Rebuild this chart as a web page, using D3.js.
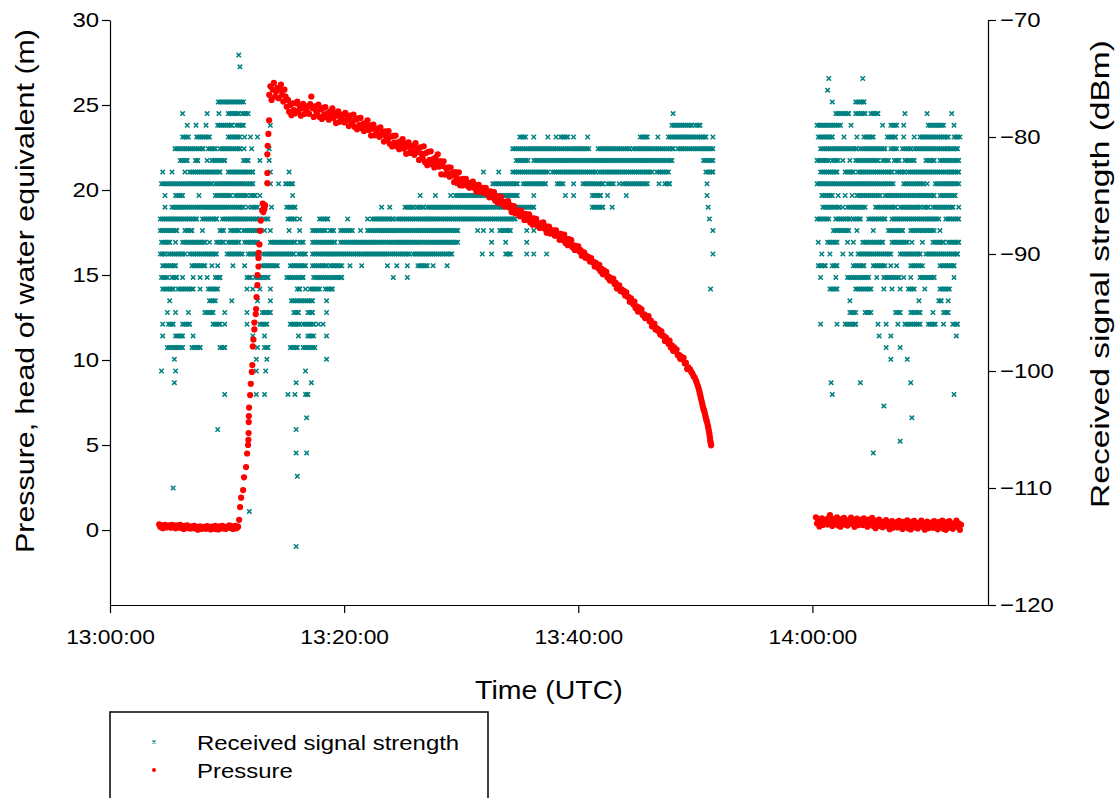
<!DOCTYPE html>
<html>
<head>
<meta charset="utf-8">
<script src="https://cdn.jsdelivr.net/npm/d3@7"></script>
<style>
  body { margin: 0; background: #fff; }
  svg text { font-family: "Liberation Sans", Arial, sans-serif; fill: #000; }
</style>
</head>
<body>
<svg id="chart" width="1120" height="798"></svg>
<script>
// time is in minutes after 13:00:00 UTC

// received signal strength, dBm level -> times (single) or [from, to] runs of readings
var rssiStart = [
  [-73, [11.0]],
  [-74, [11.1]],
  [-77, [[9.25, 11.4]]],
  [-78, [6.2, 8.3, 9.3, [10.1, 11.0], [11.3, 11.8]]],
  [-79, [6.6, 7.35, 8.2, [9.2, 10.4], [10.8, 11.4], 13.7]],
  [-80, [[6.2, 6.7], [7.4, 8.5], [10.1, 11.1], 11.5, 12.0, 12.6]],
  [-81, [[5.55, 7.95], [8.4, 9.0], [9.4, 11.1], 11.45, 12.1, 13.6]],
  [-82, [[6.0, 6.6], [7.3, 7.5], 8.3, [8.7, 9.8], [11.4, 11.8], 12.8, 13.6]],
  [-83, [4.5, 5.3, 6.4, [6.8, 9.4], [10.1, 12.2], 13.7, 15.3]],
  [-84, [[4.4, 4.9], [5.1, 8.7], [9.0, 12.2], 13.7, 14.4, [15.0, 15.6]]],
  [-85, [4.7, [5.6, 6.2], 7.6, [9.0, 10.3], [10.7, 11.7], [12.0, 12.4], 12.8, 15.6]],
  [-86, [4.7, [5.3, 11.4], 11.8, [12.1, 12.6], 13.8, [15.1, 15.8]]],
  [-87, [[4.3, 7.4], [7.9, 9.1], [9.6, 12.8], [13.2, 13.5], [15.2, 15.8], 16.2]],
  [-88, [[4.3, 5.7], [6.4, 7.0], 7.9, [9.4, 9.7], [10.3, 11.0], [11.4, 12.8], 13.2, 13.7, 15.3, 16.2]],
  [-89, [[4.4, 5.1], 5.6, [6.2, 8.1], 8.5, [9.1, 9.7], [10.1, 11.0], [11.5, 12.6], [13.7, 15.8], [16.2, 16.5]]],
  [-90, [[4.3, 4.7], [5.0, 6.2], 6.4, [6.8, 9.1], [10.0, 11.3], [11.8, 12.6], [13.1, 15.7], [16.1, 16.7]]],
  [-91, [[4.5, 5.6], [7.0, 8.1], 8.7, 9.2, 10.5, 11.5, [13.0, 14.3], [15.4, 16.7]]],
  [-92, [[4.4, 4.9], [5.3, 5.7], 6.2, 7.1, 7.7, 8.3, [9.0, 9.4], [11.7, 12.0], [12.4, 13.5], [15.1, 16.5]]],
  [-93, [[4.5, 5.4], [5.8, 7.1], 7.7, [8.4, 9.2], 11.7, 12.2, 12.8, 13.7, [16.0, 16.2], 16.7]],
  [-94, [5.1, [8.5, 9.0], 10.4, 12.6, 13.7, [15.5, 16.0]]],
  [-95, [4.9, 5.6, 6.7, [8.1, 8.8], 9.8, 11.7, [13.0, 13.7], [15.7, 16.1]]],
  [-96, [4.5, [5.0, 5.4], [6.2, 6.8], [8.8, 9.4], 9.8, 11.7, [12.8, 13.4], [15.4, 16.2]]],
  [-97, [4.5, [5.6, 6.2], 7.1, 12.2, 13.2, 16.1]],
  [-98, [[4.9, 6.2], [7.0, 7.7], [9.4, 9.8], 12.6, [13.2, 13.5], [15.4, 16.0]]],
  [-99, [5.5, 12.5, 13.4]],
  [-100, [4.4, 5.6, 12.5, 13.3]],
  [-101, [5.5, 15.9]],
  [-102, [9.8, 12.5, 13.2, 15.2, 15.8]],
  [-105, [9.2, 15.9]],
  [-107, [15.9]],
  [-109, [16.0]],
  [-110, [5.4]],
  [-112, [11.9]],
  [-115, [15.9]]
];

var rssiMid = [
  [-78, [48.1]],
  [-79, [[48.0, 49.7], [50.0, 50.4]]],
  [-80, [[35.0, 35.5], 36.2, 37.4, 38.1, [38.5, 39.1], 39.6, 40.8, [45.3, 45.9], 46.8, [47.7, 50.9], 51.5]],
  [-81, [[34.4, 40.9], [41.7, 44.4], [44.7, 48.1], [48.5, 51.5]]],
  [-82, [[34.7, 35.7], [36.2, 41.5], [41.7, 48.0], [50.7, 51.5]]],
  [-83, [31.9, 33.2, [34.4, 37.4], [37.8, 41.5], [41.8, 46.3], [46.7, 47.7], [50.9, 51.5]]],
  [-84, [[29.7, 30.5], [32.7, 34.8], [35.3, 37.2], [38.2, 38.7], 39.6, [40.4, 42.1], [42.5, 43.0], 43.5, [43.8, 45.9], 46.9, [47.4, 47.8], 51.0]],
  [-85, [26.5, 27.8, 29.1, [29.5, 34.8], 36.2, 38.9, 39.6, [41.2, 41.9], 42.5, 44.1, 51.0]],
  [-86, [23.2, 23.9, [25.2, 25.9], [26.2, 26.8], [27.1, 36.2], [41.2, 42.1], 42.9, 51.1]],
  [-87, [[17.9, 18.6], 20.3, 22.0, [22.4, 24.2], [24.5, 34.6], 51.2]],
  [-88, [[17.3, 18.4], [18.8, 19.1], [19.7, 20.7], 21.4, [22.0, 29.7], 31.4, 31.9, 32.6, [33.3, 34.2], 35.6, 36.2, 51.5]],
  [-89, [[17.3, 19.2], [19.7, 29.7], 32.6, 33.8, 35.6]],
  [-90, [[17.3, 25.6], [25.9, 29.2], 31.8, 32.6, [33.8, 34.2], 35.6, 36.2, 37.3, 51.5]],
  [-91, [[17.3, 18.5], [18.8, 19.8], 20.5, 21.5, 23.7, 24.5, 25.4, [26.3, 27.1], 27.6, 28.8]],
  [-92, [[17.4, 19.8], 24.2, 25.4]],
  [-93, [[17.1, 17.9], [18.4, 19.0], 51.3]],
  [-94, [[16.2, 17.3], 18.5]],
  [-95, [[16.9, 17.3], 18.5]],
  [-96, [[16.5, 17.4], 17.8, 18.2]],
  [-97, [[16.9, 17.4], 18.5]],
  [-98, [[16.5, 17.5]]],
  [-99, [18.5]],
  [-100, [16.7]],
  [-101, [17.2]],
  [-102, [[16.7, 16.9]]],
  [-104, [16.8]],
  [-107, [16.8]]
];

var rssiLate = [
  [-75, [61.4, 64.3]],
  [-76, [61.3]],
  [-77, [61.7, [63.7, 64.4]]],
  [-78, [[62.0, 63.1], [63.7, 64.5], [65.0, 65.6], 67.9, 69.8, 71.9]],
  [-79, [[60.4, 62.4], 63.3, 66.0, [66.7, 67.2], 67.8, [69.9, 71.2], 72.1]],
  [-80, [[60.5, 61.7], 62.7, 63.8, [64.4, 65.2], [66.4, 67.1], 67.8, 68.7, [69.2, 71.6], [72.1, 72.6]]],
  [-81, [[60.7, 63.8], [64.1, 66.2], [66.7, 67.2], [67.7, 68.4], [68.7, 71.5], [71.6, 72.4]]],
  [-82, [[60.4, 61.4], [61.7, 62.2], 62.6, 63.2, [63.7, 65.6], [66.0, 66.5], [67.0, 67.4], [67.9, 68.7], [69.7, 70.4], [70.9, 72.5]]],
  [-83, [[60.7, 62.1], [62.8, 63.5], [63.9, 66.8], [67.2, 67.9], [68.2, 71.8], [71.9, 72.5]]],
  [-84, [[60.4, 66.9], [67.8, 69.5], 69.8, [70.5, 72.5]]],
  [-85, [[60.8, 61.7], 62.2, 62.8, 63.4, [63.8, 65.8], [66.2, 68.5], [68.7, 70.4], [70.9, 72.2]]],
  [-86, [[60.9, 62.3], 62.6, [63.0, 64.5], [65.4, 67.1], [67.5, 69.2], [69.5, 69.9], [70.3, 72.0], 72.5]],
  [-87, [[60.4, 61.4], [62.0, 63.2], [63.5, 64.1], [64.8, 66.2], [66.8, 70.8], [71.4, 72.5]]],
  [-88, [[61.8, 63.1], 63.8, 65.2, [66.5, 67.7], [68.4, 70.4], 70.9]],
  [-89, [60.5, [61.3, 62.1], 63.0, 63.5, [64.3, 66.0], [66.8, 68.1], 68.5, 69.4, [70.3, 71.2], [71.6, 72.5]]],
  [-90, [60.8, 61.5, 62.6, 63.3, [63.9, 66.7], [67.5, 69.2], [69.7, 72.4]]],
  [-91, [[60.5, 61.1], [61.7, 62.1], [63.5, 64.4], [65.2, 66.2], 66.7, 67.2, [68.4, 69.4], [70.9, 72.1]]],
  [-92, [60.7, 62.0, [63.0, 64.8], 65.5, [66.1, 67.4], 67.8, 68.4, [69.2, 70.4], 72.1]],
  [-93, [[61.5, 62.1], [63.7, 65.0], 66.1, 66.8, 67.5, [68.2, 68.7], 69.6, [70.9, 71.7]]],
  [-94, [63.2, 69.1, [70.8, 71.0], 71.6]],
  [-95, [[63.2, 63.7], [64.5, 65.0], [67.1, 67.5], [68.4, 69.2], 70.3, [71.2, 71.6]]],
  [-96, [60.7, 62.1, [62.8, 63.7], 65.6, 66.3, 67.3, [67.9, 69.2], [69.9, 70.5], 71.2, [72.0, 72.4]]],
  [-97, [65.7, 66.7, 72.3]],
  [-98, [66.3, 67.5]],
  [-99, [66.7, 68.1]],
  [-101, [61.6, 64.1, 68.4]],
  [-102, [61.7, 72.1]],
  [-103, [66.1]],
  [-104, [68.5]],
  [-106, [67.5]],
  [-107, [65.2]]
];

// pressure (m of water), logged every 6 s within each stretch
var presFlatEarly = { start: 4.2, step: 0.1, values: [
  0.33, 0.18, 0.27, 0.11, 0.23, 0.3, 0.15, 0.24, 0.2, 0.28,
  0.14, 0.3, 0.19, 0.24, 0.1, 0.27, 0.2, 0.15, 0.31, 0.12,
  0.21, 0.06, 0.24, 0.15, 0.27, 0.11, 0.18, 0.09, 0.22, 0.17,
  0.24, 0.09, 0.18, 0.02, 0.14, 0.21, 0.06, 0.15, 0.11, 0.19,
  0.07, 0.23, 0.12, 0.17, 0.03, 0.2, 0.13, 0.08, 0.24, 0.05,
  0.19, 0.04, 0.22, 0.13, 0.25, 0.09, 0.16, 0.07, 0.2, 0.15,
  0.28, 0.13, 0.22, 0.06, 0.18, 0.25, 0.1, 0.19] };

// filling: sparse readings [minute, pressure]
var presRise = [
  [10.94, 0.2], [11.03, 0.6], [11.11, 1.35], [11.2, 1.9], [11.37, 2.35], [11.45, 3.1],
  [11.62, 3.7], [11.71, 4.5], [11.79, 5.0], [11.82, 5.3], [11.84, 5.7], [11.85, 6.35],
  [11.86, 6.7], [11.88, 7.2], [11.97, 7.94], [12.03, 8.6], [12.11, 9.3], [12.16, 9.7],
  [12.2, 10.8], [12.25, 11.2], [12.33, 11.8], [12.33, 12.2], [12.45, 12.7], [12.48, 13.0],
  [12.52, 13.7], [12.59, 14.4], [12.6, 15.0], [12.68, 15.5], [12.68, 16.0], [12.7, 16.3],
  [12.76, 16.8], [12.82, 17.6], [12.88, 18.2], [13.0, 18.8], [13.05, 19.2], [13.1, 18.7],
  [13.15, 19.0], [13.2, 18.9], [13.25, 19.1], [13.44, 20.4], [13.44, 21.0], [13.44, 22.1],
  [13.47, 22.6], [13.53, 23.3], [13.59, 24.1]
];

var presPeak = { start: 13.6, step: 0.1, values: [
  25.6, 26.1, 25.3, 25.9,
  26.3, 25.5, 25.8, 26.0, 25.4, 25.9, 26.2, 25.6, 25.2, 25.9,
  25.5, 24.9, 25.3, 24.6, 25.0, 24.4, 25.1, 24.7, 24.5, 25.1,
  25.2, 24.65, 24.96, 24.37, 24.81, 25.07, 24.47, 24.82, 24.63, 24.93,
  24.48, 25.05, 25.5, 24.81, 24.3, 24.92, 24.64, 24.45, 25.02, 24.29,
  24.74, 24.18, 24.83, 24.45, 24.88, 24.28, 24.53, 24.14, 24.62, 24.42,
  24.8, 24.24, 24.54, 23.94, 24.37, 24.62, 24.01, 24.35, 24.15, 24.44,
  23.98, 24.54, 24.11, 24.28, 23.76, 24.37, 24.08, 23.88, 24.44, 23.7,
  24.14, 23.57, 24.21, 23.82, 24.24, 23.63, 23.87, 23.47, 23.94, 23.73,
  24.1, 23.53, 23.81, 23.2, 23.61, 23.85, 23.22, 23.55, 23.33, 23.61,
  23.13, 23.68, 23.23, 23.39, 22.85, 23.45, 23.14, 22.93, 23.47, 22.72,
  23.14, 22.56, 23.19, 22.79, 23.2, 22.58, 22.81, 22.4, 22.86, 22.64,
  23.0, 22.44, 22.73, 22.13, 22.55, 22.8, 22.18, 22.52, 22.31, 22.6,
  22.07, 22.76, 22.22, 22.42, 21.77, 22.51, 22.14, 21.89, 22.57, 21.65,
  22.17, 21.46, 22.25, 21.77, 22.28, 21.52, 21.82, 21.33, 21.9, 21.64,
  22.1, 21.37, 21.7, 20.92, 21.42, 21.69, 20.91, 21.29, 21.01, 21.34,
  20.78, 21.32, 20.86, 21.01, 20.46, 21.05, 20.73, 20.51, 21.04, 20.28] };

var presDecline = { start: 30.0, step: 0.1, values: [
  20.63, 20.27, 20.66, 20.4, 20.65, 20.26, 20.4, 20.14, 20.42, 20.28,
  20.5, 20.14, 20.3, 19.91, 20.16, 20.3, 19.9, 20.1, 19.95, 20.12,
  19.81, 20.13, 19.84, 19.91, 19.57, 19.92, 19.71, 19.56, 19.88, 19.39,
  19.63, 19.26, 19.63, 19.36, 19.59, 19.19, 19.31, 19.04, 19.3, 19.15,
  19.35, 18.97, 19.11, 18.7, 18.93, 19.05, 18.63, 18.81, 18.64, 18.79,
  18.46, 18.79, 18.5, 18.58, 18.24, 18.6, 18.39, 18.25, 18.57, 18.09,
  18.33, 17.96, 18.34, 18.07, 18.31, 17.91, 18.04, 17.77, 18.04, 17.89,
  18.1, 17.73, 17.88, 17.48, 17.72, 17.85, 17.44, 17.63, 17.47, 17.63,
  17.31, 17.63, 17.34, 17.41, 17.07, 17.42, 17.21, 17.06, 17.38, 16.89,
  17.13, 16.75, 17.11, 16.83, 17.05, 16.64, 16.75, 16.47, 16.72, 16.56,
  16.68, 16.38, 16.46, 16.14, 16.28, 16.34, 16.02, 16.12, 15.98, 16.06,
  15.8, 16.0, 15.76, 15.78, 15.5, 15.72, 15.54, 15.4, 15.6, 15.22,
  15.36, 15.05, 15.28, 15.05, 15.18, 14.85, 14.9, 14.67, 14.82, 14.67,
  14.78, 14.47, 14.54, 14.21, 14.34, 14.39, 14.06, 14.15, 14.0, 14.07,
  13.8, 13.98, 13.72, 13.72, 13.42, 13.62, 13.42, 13.26, 13.44, 13.04,
  13.16, 12.85, 13.08, 12.85, 12.98, 12.65, 12.7, 12.47, 12.62, 12.47,
  12.58, 12.26, 12.32, 11.98, 12.1, 12.14, 11.8, 11.88, 11.72, 11.78,
  11.5, 11.68, 11.42, 11.42, 11.12, 11.32, 11.12, 10.96, 11.14, 10.74,
  10.86, 10.54, 10.75, 10.51, 10.62, 10.28, 10.31, 10.07, 10.2, 10.04,
  10.13, 9.79, 9.83, 9.47, 9.57] };

// steep end of the drawdown [minute, pressure]
var presTail = [
  [49.55, 9.45], [49.65, 9.3], [49.75, 9.2], [49.85, 9.05], [49.95, 8.95], [50.05, 8.8],
  [50.12, 8.65], [50.2, 8.5], [50.27, 8.35], [50.33, 8.2], [50.38, 8.05], [50.43, 7.9],
  [50.48, 7.75], [50.53, 7.6], [50.58, 7.45], [50.63, 7.3], [50.68, 7.15], [50.73, 7.05],
  [50.78, 6.95], [50.83, 6.8], [50.88, 6.65], [50.93, 6.5], [50.98, 6.4], [51.03, 6.25],
  [51.08, 6.1], [51.12, 5.95], [51.16, 5.8], [51.2, 5.65], [51.23, 5.5], [51.26, 5.35],
  [51.29, 5.2], [51.32, 5.1], [51.35, 4.98]
];

var presFlatLate = { start: 60.3, step: 0.1, values: [
  0.75, 0.39, 0.6, 0.21, 0.51, 0.69, 0.3, 0.54, 0.42, 0.63,
  0.33, 0.72, 0.88, 0.57, 0.24, 0.66, 0.48, 0.36, 0.75, 0.27,
  0.56, 0.2, 0.65, 0.41, 0.71, 0.32, 0.5, 0.26, 0.59, 0.47,
  0.73, 0.37, 0.58, 0.19, 0.49, 0.67, 0.28, 0.52, 0.4, 0.61,
  0.29, 0.68, 0.41, 0.53, 0.2, 0.62, 0.44, 0.32, 0.71, 0.23,
  0.47, 0.11, 0.56, 0.32, 0.62, 0.23, 0.41, 0.17, 0.5, 0.38,
  0.59, 0.23, 0.44, 0.05, 0.35, 0.53, 0.14, 0.38, 0.26, 0.47,
  0.15, 0.54, 0.27, 0.39, 0.06, 0.48, 0.3, 0.18, 0.57, 0.09,
  0.39, 0.03, 0.48, 0.24, 0.54, 0.15, 0.33, 0.09, 0.42, 0.3,
  0.56, 0.2, 0.41, 0.02, 0.32, 0.5, 0.11, 0.35, 0.23, 0.44,
  0.13, 0.52, 0.25, 0.37, 0.04, 0.46, 0.28, 0.16, 0.55, 0.07,
  0.37, 0.01, 0.46, 0.22, 0.52, 0.13, 0.31, 0.07, 0.4, 0.28,
  0.55, 0.19, 0.4, 0.01, 0.31] };

var leftTicks = [0, 5, 10, 15, 20, 25, 30];
var rightTicks = [-120, -110, -100, -90, -80, -70];
var timeTicks = [0, 20, 40, 60];

var teal = "#008080", red = "#ff0000";
var RUN_STEP = 1 / 6; // readings every 10 s inside a run

var base = new Date(2000, 0, 1, 13, 0, 0);
function toTime(m) { return new Date(base.getTime() + m * 60000); }

var svg = d3.select("#chart");

var x = d3.scaleTime().domain([toTime(0), toTime(75)]).range([110, 988]);
var yP = d3.scaleLinear().domain([-4.41, 30]).range([605, 20]);
var yR = d3.scaleLinear().domain([-120, -70]).range([605, 20]);

function expand(rows) {
    var pts = [];
    rows.forEach(function(r) {
        r[1].forEach(function(s) {
            if (typeof s === "number") { pts.push([s, r[0]]); return; }
            var t = s[0];
            for (; t < s[1] - 1e-6; t += RUN_STEP) pts.push([t, r[0]]);
            pts.push([s[1], r[0]]);
        });
    });
    return pts;
}
function series(seg) {
    return seg.values.map(function(v, i) { return [seg.start + i * seg.step, v]; });
}

var rssi = expand(rssiStart).concat(expand(rssiMid), expand(rssiLate));
var pressure = series(presFlatEarly).concat(presRise, series(presPeak), series(presDecline), presTail, series(presFlatLate));

var cross = "M-2.2,-2.2L2.2,2.2M-2.2,2.2L2.2,-2.2";

svg.append("g")
    .selectAll("path")
    .data(rssi)
    .enter().append("path")
    .attr("transform", function(d) { return "translate(" + x(toTime(d[0])) + "," + yR(d[1]) + ")"; })
    .attr("d", cross)
    .attr("fill", "none")
    .attr("stroke", teal)
    .attr("stroke-width", 1.5);

svg.append("g")
    .selectAll("circle")
    .data(pressure)
    .enter().append("circle")
    .attr("cx", function(d) { return x(toTime(d[0])); })
    .attr("cy", function(d) { return yP(d[1]); })
    .attr("r", 3.1)
    .attr("fill", red);

// axes
var gl = svg.append("g").attr("transform", "translate(110,0)")
    .call(d3.axisLeft(yP).tickValues(leftTicks).tickSize(8).tickSizeOuter(0).tickPadding(3));
var gr = svg.append("g").attr("transform", "translate(988,0)")
    .call(d3.axisRight(yR).tickValues(rightTicks).tickSize(8).tickSizeOuter(0).tickPadding(4));
var gb = svg.append("g").attr("transform", "translate(0,605)")
    .call(d3.axisBottom(x).tickValues(timeTicks.map(toTime)).tickFormat(d3.timeFormat("%H:%M:%S"))
        .tickSize(8).tickSizeOuter(0).tickPadding(17));

[gl, gr, gb].forEach(function(g) {
    g.selectAll("path, line").attr("stroke", "#000").attr("stroke-width", 1.2);
    g.selectAll("text").attr("fill", "#000").style("font-family", '"Liberation Sans", Arial, sans-serif');
});
gl.selectAll("text").attr("font-size", 21);
gr.selectAll("text").attr("font-size", 21);
gb.selectAll("text").attr("font-size", 20);

svg.append("text").attr("class", "wide")
    .attr("x", 549).attr("y", 699).attr("text-anchor", "middle")
    .attr("font-size", 25).text("Time (UTC)");

svg.append("text")
    .attr("transform", "translate(34,291) rotate(-90)")
    .attr("text-anchor", "middle").attr("font-size", 25)
    .attr("textLength", 524).attr("lengthAdjust", "spacingAndGlyphs")
    .text("Pressure, head of water equivalent (m)");

svg.append("text")
    .attr("transform", "translate(1109,274) rotate(-90)")
    .attr("text-anchor", "middle").attr("font-size", 25)
    .attr("textLength", 468).attr("lengthAdjust", "spacingAndGlyphs")
    .text("Received signal strength (dBm)");

// legend
var lg = svg.append("g");
lg.append("rect").attr("x", 110).attr("y", 712).attr("width", 378).attr("height", 120)
    .attr("fill", "none").attr("stroke", "#000").attr("stroke-width", 1.5);
lg.append("path").attr("transform", "translate(154,742)").attr("d", "M-1.5,-1.5L1.5,1.5M-1.5,1.5L1.5,-1.5")
    .attr("stroke", teal).attr("stroke-width", 1.2);
lg.append("circle").attr("cx", 154).attr("cy", 770).attr("r", 2).attr("fill", red);
lg.append("text").attr("class", "wide").attr("x", 197).attr("y", 750).attr("font-size", 21).text("Received signal strength");
lg.append("text").attr("class", "wide").attr("x", 197).attr("y", 778).attr("font-size", 21).text("Pressure");

// the source figure is stretched sideways a little
function widen(sel, k) {
    sel.each(function() {
        var w = this.getComputedTextLength();
        d3.select(this).attr("textLength", w * k).attr("lengthAdjust", "spacingAndGlyphs");
    });
}
widen(svg.selectAll("text.wide"), 1.14);
widen(gl.selectAll("text"), 1.14);
widen(gr.selectAll("text"), 1.14);
widen(gb.selectAll("text"), 1.14);
</script>
</body>
</html>
